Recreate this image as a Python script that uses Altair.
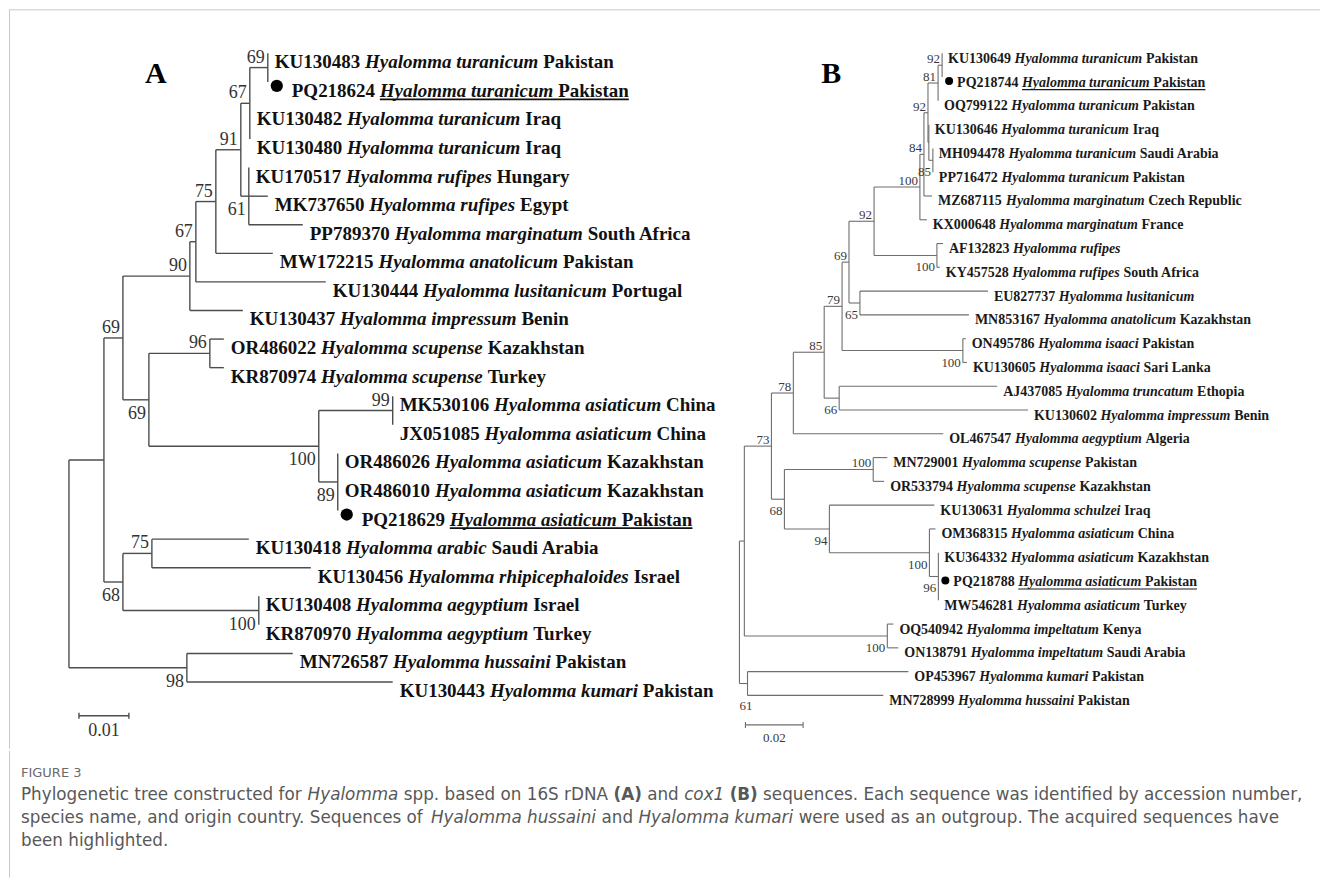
import altair as alt
import pandas as pd

# ---------------- data: tree A (16S rDNA) ----------------
a_node = ["R", "I1", "N2", "N90", "N67b", "N75", "N91", "N67", "N69", "KU130483", "PQ218624",
          "KU130482", "KU130480", "N61", "KU170517", "MK737650", "PP789370", "MW172215", "KU130444",
          "KU130437", "N69b", "N96", "OR486022", "KR870974", "N100", "N99", "MK530106", "JX051085",
          "N89", "OR486026", "OR486010", "PQ218629", "N68", "N75b", "KU130418", "KU130456", "N100c",
          "KU130408", "KR870970", "N98", "MN726587", "KU130443"]
a_parent = [None, "R", "I1", "N2", "N90", "N67b", "N75", "N91", "N67", "N69", "N69",
            "N67", "N67", "N91", "N61", "N61", "N61", "N75", "N67b",
            "N90", "N2", "N69b", "N96", "N96", "N69b", "N100", "N99", "N99",
            "N100", "N89", "N89", "N89", "I1", "N68", "N75b", "N75b", "N68",
            "N100c", "N100c", "R", "N98", "N98"]
a_length = [0, 0.0070, 0.0038, 0.0134, 0.0012, 0.0040, 0.0050, 0.0018, 0.0036, 0, 0,
            0, 0, 0.0016, 0, 0.0038, 0.0108, 0.0114, 0.0260,
            0.0106, 0.0052, 0.0122, 0.0028, 0.0028, 0.0340, 0.0148, 0, 0,
            0.0038, 0, 0, 0, 0.0038, 0.0058, 0.0194, 0.0318, 0.0272,
            0, 0, 0.0236, 0.0212, 0.0412]
a_support = [0, 0, 69, 90, 67, 75, 91, 67, 69, 0, 0,
             0, 0, 61, 0, 0, 0, 0, 0,
             0, 69, 96, 0, 0, 100, 99, 0, 0,
             89, 0, 0, 0, 68, 75, 0, 0, 100,
             0, 0, 98, 0, 0]
a_accession = ["KU130483", "PQ218624", "KU130482", "KU130480", "KU170517", "MK737650", "PP789370",
               "MW172215", "KU130444", "KU130437", "OR486022", "KR870974", "MK530106", "JX051085",
               "OR486026", "OR486010", "PQ218629", "KU130418", "KU130456", "KU130408", "KR870970",
               "MN726587", "KU130443"]
a_species = ["turanicum", "turanicum", "turanicum", "turanicum", "rufipes", "rufipes", "marginatum",
             "anatolicum", "lusitanicum", "impressum", "scupense", "scupense", "asiaticum", "asiaticum",
             "asiaticum", "asiaticum", "asiaticum", "arabic", "rhipicephaloides", "aegyptium",
             "aegyptium", "hussaini", "kumari"]
a_country = ["Pakistan", "Pakistan", "Iraq", "Iraq", "Hungary", "Egypt", "South Africa", "Pakistan",
             "Portugal", "Benin", "Kazakhstan", "Turkey", "China", "China", "Kazakhstan", "Kazakhstan",
             "Pakistan", "Saudi Arabia", "Israel", "Israel", "Turkey", "Pakistan", "Pakistan"]
a_highlight = ["PQ218624", "PQ218629"]

# ---------------- data: tree B (cox1) ----------------
b_node = ["R", "I", "N73", "N78", "N85b", "N79", "N69", "N92c", "N100", "N84", "N92b", "N81", "N92a",
          "KU130649", "PQ218744", "OQ799122", "X", "KU130646", "N85", "MH094478", "PP716472",
          "MZ687115", "KX000648", "NAF", "AF132823", "KY457528", "N65", "EU827737", "MN853167",
          "NIS", "ON495786", "KU130605", "N66", "AJ437085", "KU130602", "OL467547", "N68", "NSC",
          "MN729001", "OR533794", "N94", "KU130631", "NAS", "OM368315", "N96", "KU364332",
          "PQ218788", "MW546281", "NIM", "OQ540942", "ON138791", "NOUT", "OP453967", "MN728999"]
b_parent = [None, "R", "I", "N73", "N78", "N85b", "N79", "N69", "N92c", "N100", "N84", "N92b", "N81",
            "N92a", "N92a", "N81", "N92b", "X", "X", "N85", "N85",
            "N84", "N100", "N92c", "NAF", "NAF", "N69", "N65", "N65",
            "N79", "NIS", "NIS", "N85b", "N66", "N66", "N78", "N73", "N68",
            "NSC", "NSC", "N68", "N94", "N94", "NAS", "NAS", "N96",
            "N96", "N96", "I", "NIM", "NIM", "R", "NOUT", "NOUT"]
b_length = [0, 0.0017, 0.0094, 0.0076, 0.0107, 0.0062, 0.0024, 0.0087, 0.0159, 0.0014, 0.0014, 0.0035, 0.0014,
            0, 0, 0, 0.0003, 0, 0.0014, 0, 0,
            0.0028, 0.0024, 0.0218, 0.0021, 0.0010, 0.0038, 0.0444, 0.0378,
            0.0419, 0.0010, 0.0014, 0.0052, 0.0548, 0.0655, 0.0520, 0.0045, 0.0308,
            0.0049, 0.0038, 0.0156, 0.0364, 0.0347, 0.0021, 0.0031, 0,
            0, 0, 0.0496, 0.0021, 0.0038, 0.0028, 0.0558, 0.0471]
b_support = [0, 0, 73, 78, 85, 79, 69, 92, 100, 84, 92, 81, 92,
             0, 0, 0, 0, 0, 85, 0, 0,
             0, 0, 100, 0, 0, 65, 0, 0,
             100, 0, 0, 66, 0, 0, 0, 68, 100,
             0, 0, 94, 0, 100, 0, 96, 0,
             0, 0, 100, 0, 0, 61, 0, 0]
b_accession = ["KU130649", "PQ218744", "OQ799122", "KU130646", "MH094478", "PP716472", "MZ687115",
               "KX000648", "AF132823", "KY457528", "EU827737", "MN853167", "ON495786", "KU130605",
               "AJ437085", "KU130602", "OL467547", "MN729001", "OR533794", "KU130631", "OM368315",
               "KU364332", "PQ218788", "MW546281", "OQ540942", "ON138791", "OP453967", "MN728999"]
b_species = ["turanicum", "turanicum", "turanicum", "turanicum", "turanicum", "turanicum", "marginatum",
             "marginatum", "rufipes", "rufipes", "lusitanicum", "anatolicum", "isaaci", "isaaci",
             "truncatum", "impressum", "aegyptium", "scupense", "scupense", "schulzei", "asiaticum",
             "asiaticum", "asiaticum", "asiaticum", "impeltatum", "impeltatum", "kumari", "hussaini"]
b_country = ["Pakistan", "Pakistan", "Pakistan", "Iraq", "Saudi Arabia", "Pakistan", "Czech Republic",
             "France", "", "South Africa", "", "Kazakhstan", "Pakistan", "Sari Lanka", "Ethopia", "Benin",
             "Algeria", "Pakistan", "Kazakhstan", "Iraq", "China", "Kazakhstan", "Pakistan", "Turkey",
             "Kenya", "Saudi Arabia", "Pakistan", "Pakistan"]
b_highlight = ["PQ218744", "PQ218788"]

genus = "Hyalomma"
scale_a = 0.01
scale_b = 0.02
panel_letters = ["A", "B"]

caption_title = "FIGURE 3"
# caption lines as styled runs: n = normal, i = italic, b = bold
caption_runs = [
    [("Phylogenetic tree constructed for ", "n"), ("Hyalomma", "i"), (" spp. based on 16S rDNA ", "n"),
     ("(A)", "b"), (" and ", "n"), ("cox1", "i"), (" ", "n"), ("(B)", "b"),
     (" sequences. Each sequence was identified by accession number,", "n")],
    [("species name, and origin country. Sequences of ", "n"), ("Hyalomma hussaini", "i"), (" and ", "n"),
     ("Hyalomma kumari", "i"), (" were used as an outgroup. The acquired sequences have", "n")],
    [("been highlighted.", "n")],
]

# ---------------- font metrics (per 1000 em) ----------------
# Times bold / bold italic (Liberation Serif is metric compatible)
TB = dict(zip("ABCDEFGHIJKLMNOPQRSTUVWXYZ",
              [722, 667, 722, 722, 667, 611, 778, 778, 389, 500, 778, 667, 944, 722, 778, 611, 778, 722,
               556, 667, 722, 722, 1000, 722, 722, 667]))
TB.update(zip("abcdefghijklmnopqrstuvwxyz",
              [500, 556, 444, 556, 444, 333, 500, 556, 278, 333, 556, 278, 833, 556, 500, 556, 556, 444,
               389, 333, 556, 500, 722, 500, 500, 444]))
TB.update({c: 500 for c in "0123456789"})
TB[" "] = 250
TBI = dict(zip("ABCDEFGHIJKLMNOPQRSTUVWXYZ",
               [667, 667, 667, 722, 667, 667, 722, 778, 389, 500, 667, 611, 889, 722, 722, 611, 722, 667,
                556, 611, 722, 667, 889, 667, 611, 611]))
TBI.update(zip("abcdefghijklmnopqrstuvwxyz",
               [500, 500, 444, 500, 444, 333, 500, 556, 278, 278, 500, 278, 778, 556, 500, 500, 500, 389,
                389, 278, 556, 444, 667, 500, 444, 389]))
TBI[" "] = 250
# DejaVu Sans (regular / oblique share widths) and bold
DV = dict(zip("abcdefghijklmnopqrstuvwxyz",
              [613, 635, 550, 635, 615, 352, 635, 634, 278, 278, 579, 278, 974, 634, 612, 635, 635, 411,
               521, 392, 634, 592, 818, 592, 592, 525]))
DV.update(zip("ABCDEFGHIJKLMNOPQRSTUVWXYZ",
              [684, 686, 698, 770, 632, 575, 775, 752, 295, 295, 656, 557, 863, 748, 787, 603, 787, 695,
               635, 611, 732, 684, 989, 685, 611, 685]))
DV.update({c: 636 for c in "0123456789"})
DV.update({" ": 318, ".": 318, ",": 318, "(": 390, ")": 390})
DVB = {"(": 457, ")": 457, "A": 774, "B": 762, " ": 348}


def tw(s, table, fs):
    return sum(table.get(c, 500) for c in s) * fs / 1000.0


def layout(nodes, parents, lengths):
    children = {n: [] for n in nodes}
    for n, p in zip(nodes, parents):
        if p is not None:
            children[p].append(n)
    depth = {}
    for n, p, l in zip(nodes, parents, lengths):
        depth[n] = 0.0 if p is None else depth[p] + l
    ypos, leaves = {}, []

    def visit(n):
        if not children[n]:
            ypos[n] = float(len(leaves))
            leaves.append(n)
        else:
            for c in children[n]:
                visit(c)
            ypos[n] = (ypos[children[n][0]] + ypos[children[n][-1]]) / 2.0

    visit(nodes[parents.index(None)])
    return children, depth, ypos


SERIF = "Liberation Serif"


def panel(nodes, parents, lengths, support, acc, species, country, highlight, scalebar, letter, P):
    children, depth, ypos = layout(nodes, parents, lengths)
    ppu, ppr = P["ppu"], P["ppr"]
    xmin = -P["root_px"] / ppu
    xmax = xmin + P["width"] / ppu
    ymin = -P["top_px"] / ppr
    ymax = ymin + P["height"] / ppr
    xs = alt.Scale(domain=[xmin, xmax], nice=False, zero=False)
    ys = alt.Scale(domain=[ymin, ymax], nice=False, zero=False, reverse=True)

    def X(f):
        return alt.X(f, type="quantitative", scale=xs, axis=None)

    def Y(f):
        return alt.Y(f, type="quantitative", scale=ys, axis=None)

    segs = []
    for n, p in zip(nodes, parents):
        if p is not None:
            segs.append({"x": depth[p], "x2": depth[n], "y": ypos[n], "y2": ypos[n]})
        if children[n]:
            segs.append({"x": depth[n], "x2": depth[n],
                         "y": ypos[children[n][0]], "y2": ypos[children[n][-1]]})
    seg_df = pd.DataFrame(segs)

    boot = []
    over = P.get("boot_override", {})
    for n, p, s in zip(nodes, parents, support):
        if s:
            above = children[p][0] == n
            gap = P["boot_gap"]
            off = P["boot_above"] if above else P["boot_below"]
            if n in over:
                gap, off = over[n]
            boot.append({"x": depth[n] - gap / ppu, "y": ypos[n] + off / ppr, "t": str(s)})
    boot_df = pd.DataFrame(boot)

    fs = P["fs"]
    labs = []
    for a, sp, co in zip(acc, species, country):
        hl = a in highlight
        x0 = depth[a] + (P["hl_gap"] if hl else P["gap"]) / ppu
        sp_full = genus + " " + sp
        xsp = x0 + tw(a + " ", TB, fs) / ppu
        xco = xsp + (tw(sp_full, TBI, fs) + tw(" ", TB, fs)) / ppu
        xend = xco + tw(co, TB, fs) / ppu
        labs.append({"y": ypos[a], "acc": a, "sp": sp_full, "co": co, "xa": x0, "xs": xsp, "xc": xco,
                     "xe": xend, "hl": hl, "xd": depth[a] + P["dot_gap"] / ppu,
                     "yd": ypos[a] + P["dot_dy"] / ppr, "yu": ypos[a] + P["ul_dy"] / ppr})
    lab_df = pd.DataFrame(labs)
    hl_df = lab_df[lab_df["hl"]]

    sb0 = P["sb_start"]
    sb_df = pd.DataFrame([{"x": sb0, "x2": sb0 + scalebar, "y": P["sb_row"], "y2": P["sb_row"],
                           "t": f"{scalebar:.2f}", "xm": sb0 + scalebar / 2,
                           "yt": P["sb_row"] + P["sb_text_dy"] / ppr}])
    tick_df = pd.DataFrame([{"x": v, "y": P["sb_row"] - 3 / ppr, "y2": P["sb_row"] + 3 / ppr}
                            for v in (sb0, sb0 + scalebar)])

    base_txt = dict(font=SERIF, fontSize=fs, fontWeight="bold", color=P["text_color"],
                    align="left", baseline="middle", dy=P["text_dy"])

    layers = [
        alt.Chart(seg_df).mark_rule(color=P["line_color"], strokeWidth=P["sw"]).encode(
            x=X("x"), x2=alt.X2("x2"), y=Y("y"), y2=alt.Y2("y2")),
        alt.Chart(boot_df).mark_text(font=SERIF, fontSize=P["bfs"], color=P["boot_color"],
                                     align="right", baseline="middle").encode(
            x=X("x"), y=Y("y"), text=alt.Text("t:N")),
        alt.Chart(lab_df).mark_text(**base_txt).encode(x=X("xa"), y=Y("y"), text=alt.Text("acc:N")),
        alt.Chart(lab_df).mark_text(fontStyle="italic", **base_txt).encode(
            x=X("xs"), y=Y("y"), text=alt.Text("sp:N")),
        alt.Chart(lab_df).mark_text(**base_txt).encode(x=X("xc"), y=Y("y"), text=alt.Text("co:N")),
        alt.Chart(hl_df).mark_circle(size=P["dot_size"], color="black", opacity=1).encode(
            x=X("xd"), y=Y("yd")),
        alt.Chart(hl_df).mark_rule(color=P["text_color"], strokeWidth=P["ul_w"]).encode(
            x=X("xs"), x2=alt.X2("xe"), y=Y("yu"), y2=alt.Y2("yu")),
        alt.Chart(sb_df).mark_rule(color=P["line_color"], strokeWidth=P["sw"]).encode(
            x=X("x"), x2=alt.X2("x2"), y=Y("y"), y2=alt.Y2("y2")),
        alt.Chart(tick_df).mark_rule(color=P["line_color"], strokeWidth=P["sw"]).encode(
            x=X("x"), y=Y("y"), y2=alt.Y2("y2")),
        alt.Chart(sb_df).mark_text(font=SERIF, fontSize=P["bfs"], color=P["boot_color"],
                                   align="center", baseline="middle").encode(
            x=X("xm"), y=Y("yt"), text=alt.Text("t:N")),
        alt.Chart(pd.DataFrame({"t": [letter]})).mark_text(
            font=SERIF, fontSize=30, fontWeight="bold", color="black", align="center",
            baseline="middle").encode(x=alt.value(P["letter_x"]), y=alt.value(P["letter_y"]),
                                      text=alt.Text("t:N")),
    ]
    for extra in P.get("frame", []):
        layers.append(extra)
    return alt.layer(*layers).properties(width=P["width"], height=P["height"])


H = 740
WA, WB = 690, 622
FRAME = "#c9c9c9"

frame_a = [
    alt.Chart(pd.DataFrame({"k": [0]})).mark_rule(color=FRAME, strokeWidth=1).encode(
        x=alt.value(0.5), y=alt.value(0), y2=alt.value(H)),
    alt.Chart(pd.DataFrame({"k": [0]})).mark_rule(color=FRAME, strokeWidth=1).encode(
        x=alt.value(0), x2=alt.value(WA + WB), y=alt.value(0.5)),
]

PA = dict(width=WA, height=H, ppu=5000.0, ppr=28.6, root_px=60, top_px=44, fs=19, bfs=18,
          text_dy=9, gap=7, hl_gap=24, dot_gap=9, dot_dy=4, dot_size=150, ul_dy=17.5, ul_w=1.8,
          boot_gap=3, boot_above=-10, boot_below=14, line_color="#4d4d4d", sw=1.4,
          text_color="#111111", boot_color="#333333", sb_start=0.002, sb_row=23.18, sb_text_dy=15,
          letter_x=147, letter_y=65, frame=frame_a)
PB = dict(width=WB, height=H, ppu=2885.0, ppr=23.8, root_px=41, top_px=44, fs=14, bfs=13,
          text_dy=5.5, gap=6, hl_gap=15, dot_gap=7, dot_dy=4, dot_size=64, ul_dy=12.5, ul_w=1.2,
          boot_gap=2, boot_above=-6, boot_below=12, line_color="#6e6e6e", sw=1.1,
          text_color="#1a1a1a", boot_color="#3a3a3a", sb_start=0.00208, sb_row=28.24, sb_text_dy=13,
          letter_x=133, letter_y=65, boot_override={"NOUT": (-5, 23)})

chart_a = panel(a_node, a_parent, a_length, a_support, a_accession, a_species, a_country,
                a_highlight, scale_a, panel_letters[0], PA)
chart_b = panel(b_node, b_parent, b_length, b_support, b_accession, b_species, b_country,
                b_highlight, scale_b, panel_letters[1], PB)

top = alt.HConcatChart(hconcat=[chart_a, chart_b], spacing=0, bounds="flush")

# ---------------- caption ----------------
CAP_H = 127
CAP_W = WA + WB
CAP_X0 = 12
CAP_TARGET = 1283.0   # width of the first caption line
line1_em = sum(tw(t, DVB if s == "b" else DV, 1.0) for t, s in caption_runs[0])
cap_fs = round(CAP_TARGET / line1_em, 2)

runs = []
for li, line in enumerate(caption_runs):
    cum = CAP_X0
    for t, s in line:
        table = DVB if s == "b" else DV
        lead = len(t) - len(t.lstrip())
        runs.append({"row": li + 1, "x": cum + tw(t[:lead], table, cap_fs), "t": t.strip(), "s": s})
        cum += tw(t, table, cap_fs)
run_df = pd.DataFrame(runs)
run_df = run_df[run_df["t"] != ""]
title_df = pd.DataFrame({"row": [0], "x": [CAP_X0], "t": [caption_title]})

cxs = alt.Scale(domain=[0, CAP_W], nice=False, zero=False)
cys = alt.Scale(domain=[-22 / 22.7, -22 / 22.7 + CAP_H / 22.7], nice=False, zero=False, reverse=True)


def CX():
    return alt.X("x:Q", scale=cxs, axis=None)


def CY():
    return alt.Y("row:Q", scale=cys, axis=None)


cap_text = dict(font="DejaVu Sans", fontSize=cap_fs, color="#585858", align="left", baseline="middle")
cap_layers = [
    alt.Chart(pd.DataFrame({"k": [0]})).mark_rule(color=FRAME, strokeWidth=1).encode(
        x=alt.value(0.5), y=alt.value(0), y2=alt.value(CAP_H)),
    alt.Chart(title_df).mark_text(font="DejaVu Sans", fontSize=13, color="#6a6a6a", align="left",
                                  baseline="middle").encode(x=CX(), y=CY(), text=alt.Text("t:N")),
    alt.Chart(run_df[run_df["s"] == "n"]).mark_text(**cap_text).encode(
        x=CX(), y=CY(), text=alt.Text("t:N")),
    alt.Chart(run_df[run_df["s"] == "i"]).mark_text(fontStyle="italic", **cap_text).encode(
        x=CX(), y=CY(), text=alt.Text("t:N")),
    alt.Chart(run_df[run_df["s"] == "b"]).mark_text(fontWeight="bold", **cap_text).encode(
        x=CX(), y=CY(), text=alt.Text("t:N")),
]
caption = alt.layer(*cap_layers).properties(width=CAP_W, height=CAP_H)

chart = alt.VConcatChart(vconcat=[top, caption], spacing=0).properties(
    padding=0, background="white"
).configure_view(strokeWidth=0)

chart.save("out.html", embed_options={"renderer": "svg", "actions": False})
